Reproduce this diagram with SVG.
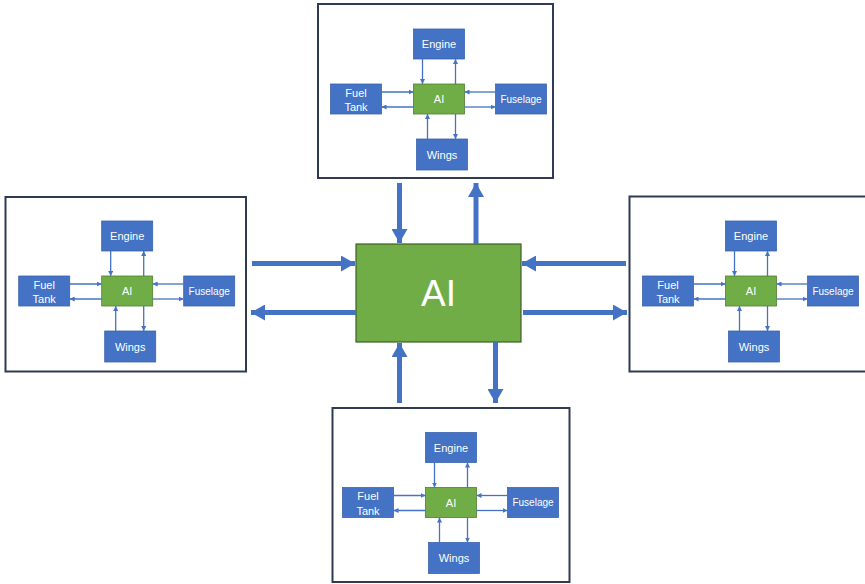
<svg xmlns="http://www.w3.org/2000/svg" width="865" height="584" viewBox="0 0 865 584">
<style>
.panel{fill:#fff;stroke:#2f3b52;stroke-width:2}
.blue{fill:#4472c4;stroke:#3b64ad;stroke-width:0.8}
.green{fill:#70ad47;stroke:#507e32;stroke-width:0.8}
.lbl{fill:#fff;font-family:"Liberation Sans",Arial,sans-serif;font-size:11px;text-anchor:middle}
.sm{font-size:10px}
.link{fill:none;stroke:#4472c4;stroke-width:1.3;marker-end:url(#sa)}
.big{fill:none;stroke:#4472c4;stroke-width:5;marker-end:url(#ba)}
</style>
<defs>
<marker id="sa" markerUnits="userSpaceOnUse" markerWidth="5" markerHeight="5" refX="5" refY="2.5" orient="auto"><path d="M0,0 L5,2.5 L0,5 z" fill="#4472c4"/></marker>
<marker id="ba" markerUnits="userSpaceOnUse" markerWidth="14" markerHeight="16" refX="14" refY="8" orient="auto"><path d="M0,0 L14,8 L0,16 z" fill="#4472c4"/></marker>
</defs>
<rect width="865" height="584" fill="#fff"/>

<!-- Top panel -->
<rect class="panel" x="318" y="4" width="235" height="174"/>
<g transform="translate(318.5,4)">
  <g id="top-engine"><rect class="blue" x="95" y="25" width="51" height="30"/><text class="lbl" x="120.5" y="44">Engine</text></g>
  <g id="top-ai"><rect class="green" x="95" y="80" width="51" height="30"/><text class="lbl" x="120.5" y="99">AI</text></g>
  <g id="top-fueltank"><rect class="blue" x="12" y="80" width="51" height="30"/><text class="lbl" x="37.5" y="92.5">Fuel</text><text class="lbl" x="37.5" y="107">Tank</text></g>
  <g id="top-fuselage"><rect class="blue" x="177" y="80" width="51" height="30"/><text class="lbl sm" x="202.5" y="98.5">Fuselage</text></g>
  <g id="top-wings"><rect class="blue" x="98" y="135" width="51" height="31"/><text class="lbl" x="123.5" y="154.5">Wings</text></g>
  <g id="top-links">
    <path class="link" d="M104,55 V80"/><path class="link" d="M137,80 V55"/>
    <path class="link" d="M63,88 H95"/><path class="link" d="M95,103 H63"/>
    <path class="link" d="M177,88 H146"/><path class="link" d="M146,103 H177"/>
    <path class="link" d="M109,135 V110"/><path class="link" d="M137,110 V135"/>
  </g>
</g>

<!-- Left panel -->
<rect class="panel" x="5.5" y="197" width="240.5" height="174.5"/>
<g transform="translate(6.7,196)">
  <g id="left-engine"><rect class="blue" x="95" y="25" width="51" height="30"/><text class="lbl" x="120.5" y="44">Engine</text></g>
  <g id="left-ai"><rect class="green" x="95" y="80" width="51" height="30"/><text class="lbl" x="120.5" y="99">AI</text></g>
  <g id="left-fueltank"><rect class="blue" x="12" y="80" width="51" height="30"/><text class="lbl" x="37.5" y="92.5">Fuel</text><text class="lbl" x="37.5" y="107">Tank</text></g>
  <g id="left-fuselage"><rect class="blue" x="177" y="80" width="51" height="30"/><text class="lbl sm" x="202.5" y="98.5">Fuselage</text></g>
  <g id="left-wings"><rect class="blue" x="98" y="135" width="51" height="31"/><text class="lbl" x="123.5" y="154.5">Wings</text></g>
  <g id="left-links">
    <path class="link" d="M104,55 V80"/><path class="link" d="M137,80 V55"/>
    <path class="link" d="M63,88 H95"/><path class="link" d="M95,103 H63"/>
    <path class="link" d="M177,88 H146"/><path class="link" d="M146,103 H177"/>
    <path class="link" d="M109,135 V110"/><path class="link" d="M137,110 V135"/>
  </g>
</g>

<!-- Right panel -->
<rect class="panel" x="629.5" y="196.5" width="245" height="175"/>
<g transform="translate(630.5,196)">
  <g id="right-engine"><rect class="blue" x="95" y="25" width="51" height="30"/><text class="lbl" x="120.5" y="44">Engine</text></g>
  <g id="right-ai"><rect class="green" x="95" y="80" width="51" height="30"/><text class="lbl" x="120.5" y="99">AI</text></g>
  <g id="right-fueltank"><rect class="blue" x="12" y="80" width="51" height="30"/><text class="lbl" x="37.5" y="92.5">Fuel</text><text class="lbl" x="37.5" y="107">Tank</text></g>
  <g id="right-fuselage"><rect class="blue" x="177" y="80" width="51" height="30"/><text class="lbl sm" x="202.5" y="98.5">Fuselage</text></g>
  <g id="right-wings"><rect class="blue" x="98" y="135" width="51" height="31"/><text class="lbl" x="123.5" y="154.5">Wings</text></g>
  <g id="right-links">
    <path class="link" d="M104,55 V80"/><path class="link" d="M137,80 V55"/>
    <path class="link" d="M63,88 H95"/><path class="link" d="M95,103 H63"/>
    <path class="link" d="M177,88 H146"/><path class="link" d="M146,103 H177"/>
    <path class="link" d="M109,135 V110"/><path class="link" d="M137,110 V135"/>
  </g>
</g>

<!-- Bottom panel -->
<rect class="panel" x="332.5" y="408" width="237" height="174"/>
<g transform="translate(330.5,407.5)">
  <g id="bottom-engine"><rect class="blue" x="95" y="25" width="51" height="30"/><text class="lbl" x="120.5" y="44">Engine</text></g>
  <g id="bottom-ai"><rect class="green" x="95" y="80" width="51" height="30"/><text class="lbl" x="120.5" y="99">AI</text></g>
  <g id="bottom-fueltank"><rect class="blue" x="12" y="80" width="51" height="30"/><text class="lbl" x="37.5" y="92.5">Fuel</text><text class="lbl" x="37.5" y="107">Tank</text></g>
  <g id="bottom-fuselage"><rect class="blue" x="177" y="80" width="51" height="30"/><text class="lbl sm" x="202.5" y="98.5">Fuselage</text></g>
  <g id="bottom-wings"><rect class="blue" x="98" y="135" width="51" height="31"/><text class="lbl" x="123.5" y="154.5">Wings</text></g>
  <g id="bottom-links">
    <path class="link" d="M104,55 V80"/><path class="link" d="M137,80 V55"/>
    <path class="link" d="M63,88 H95"/><path class="link" d="M95,103 H63"/>
    <path class="link" d="M177,88 H146"/><path class="link" d="M146,103 H177"/>
    <path class="link" d="M109,135 V110"/><path class="link" d="M137,110 V135"/>
  </g>
</g>

<!-- Central AI -->
<g id="main-ai">
  <rect x="356" y="244" width="165" height="98" fill="#70ad47" stroke="#3d5f27" stroke-width="1.2"/>
  <text x="438.5" y="306" fill="#fff" font-family="Liberation Sans,Arial,sans-serif" font-size="37" text-anchor="middle">AI</text>
</g>

<g id="main-connectors">
  <path class="big" d="M399.5,183 V243"/>
  <path class="big" d="M476,244 V183"/>
  <path class="big" d="M252,263.5 H355"/>
  <path class="big" d="M356,312.5 H251"/>
  <path class="big" d="M626,263.5 H522"/>
  <path class="big" d="M523,312.5 H627"/>
  <path class="big" d="M399.5,403 V343"/>
  <path class="big" d="M495.5,342 V403"/>
</g>
</svg>
